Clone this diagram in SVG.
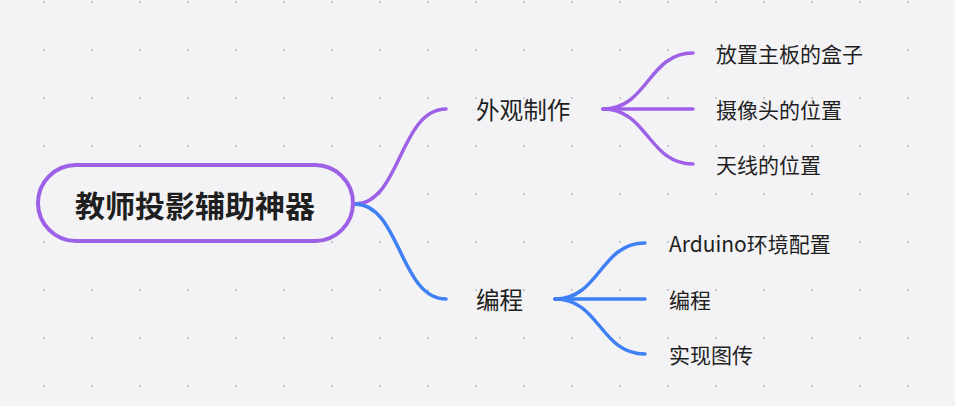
<svg xmlns="http://www.w3.org/2000/svg" width="955" height="406" viewBox="0 0 955 406">
<defs>
<pattern id="dots" x="0" y="0" width="48" height="48" patternUnits="userSpaceOnUse">
<rect x="43" y="1" width="2" height="2" fill="#c9c9cc"/>
</pattern>
<style>
text{font-family:"Noto Sans CJK SC","Noto Sans",sans-serif;fill:#1f1f1f;dominant-baseline:central}
.root{font-size:30px;font-weight:bold}
.l1{font-size:23.6px}
.l2{font-size:21px}
.p{fill:none;stroke:#9d60e6;stroke-width:3.5;stroke-linecap:round}
.b{fill:none;stroke:#3f80f4;stroke-width:3.5;stroke-linecap:round}
</style>
</defs>
<rect width="955" height="406" fill="#f3f3f5"/>
<rect width="955" height="406" fill="url(#dots)"/>
<g id="connectors">
<path class="p" d="M355,204 C400,204 400,109 446,109"/>
<path class="b" d="M355,204 C400,204 400,299 446,299"/>
<path class="p" d="M603,109 C648,109 648,53 693,53"/>
<path class="p" d="M603,109 L693,109"/>
<path class="p" d="M603,109 C648,109 648,164 693,164"/>
<path class="b" d="M555,299 C600,299 600,243 645,243"/>
<path class="b" d="M555,299 L645,299"/>
<path class="b" d="M555,299 C600,299 600,354 645,354"/>
</g>
<g id="root">
<rect x="38" y="165" width="315" height="76" rx="38" fill="#f3f3f5" stroke="#9d60e6" stroke-width="4"/>
<text class="root" x="195" y="204" text-anchor="middle">教师投影辅助神器</text>
</g>
<g id="n-waiguan"><text class="l1" x="476" y="109">外观制作</text></g>
<g id="n-biancheng"><text class="l1" x="476" y="299">编程</text></g>
<g id="n-hezi"><text class="l2" x="716" y="53">放置主板的盒子</text></g>
<g id="n-shexiangtou"><text class="l2" x="716" y="109">摄像头的位置</text></g>
<g id="n-tianxian"><text class="l2" x="716" y="164">天线的位置</text></g>
<g id="n-arduino"><text class="l2" x="669" y="243">Arduino环境配置</text></g>
<g id="n-bc2"><text class="l2" x="669" y="299">编程</text></g>
<g id="n-tuchuan"><text class="l2" x="669" y="354">实现图传</text></g>
</svg>
